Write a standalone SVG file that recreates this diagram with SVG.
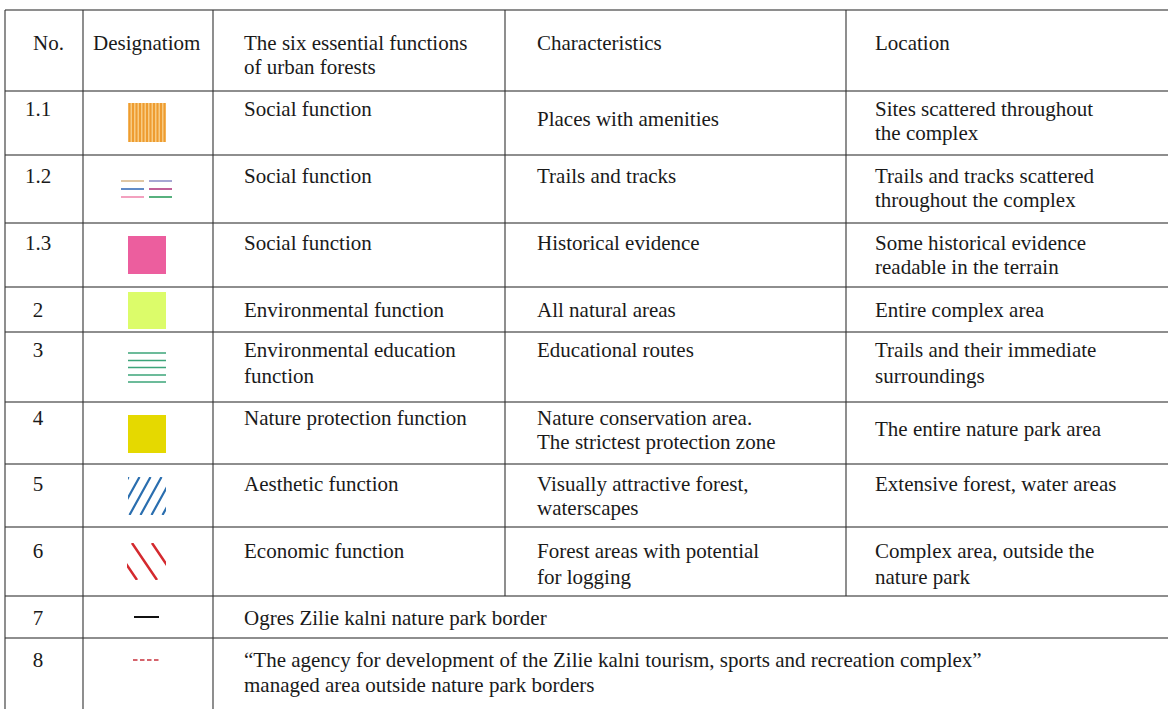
<svg xmlns="http://www.w3.org/2000/svg" width="1168" height="709" viewBox="0 0 1168 709">
<style>
text{font-family:"Liberation Serif","Times New Roman",serif;font-size:21px;fill:#1a1a1a}
.n{text-anchor:middle}
.h{stroke:#6a6a6a;stroke-width:1.6;fill:none}
.v{stroke:#333;stroke-width:1.1;fill:none}
</style>
<defs>
<clipPath id="c5"><rect x="128" y="477" width="38" height="38"/></clipPath>
<clipPath id="c6"><rect x="127" y="543" width="39" height="37"/></clipPath>
</defs>
<rect width="1168" height="709" fill="#fff"/>
<g id="grid">
<path class="h" d="M5 10H1168M5 91H1168M5 155H1168M5 223H1168M5 287H1168M5 332H1168M5 402H1168M5 464H1168M5 527H1168M5 596H1168M5 638H1168"/>
<path class="v" d="M5 10V709M83 10V709M213 10V709M505 10V596M846 10V596"/>
</g>
<g id="header">
<text x="33" y="50">No.</text>
<text x="93" y="50">Designatiom</text>
<text x="244" y="50">The six essential functions</text>
<text x="244" y="74">of urban forests</text>
<text x="537" y="50">Characteristics</text>
<text x="875" y="50">Location</text>
</g>
<g id="row-1-1">
<text class="n" x="38" y="116">1.1</text>
<rect x="128" y="103" width="38" height="39" fill="#F8CB82"/>
<path d="M129.5 103V142M133 103V142M136.5 103V142M140 103V142M143.5 103V142M147 103V142M150.5 103V142M154 103V142M157.5 103V142M161 103V142M164.5 103V142" stroke="#EE9C30" stroke-width="2"/>
<text x="244" y="116">Social function</text>
<text x="537" y="126">Places with amenities</text>
<text x="875" y="116">Sites scattered throughout</text>
<text x="875" y="140">the complex</text>
</g>
<g id="row-1-2">
<text class="n" x="38" y="183">1.2</text>
<g stroke-width="1.6">
<path d="M121 181H144" stroke="#D8B88C"/>
<path d="M149 181H172" stroke="#9090C8"/>
<path d="M121 189H144" stroke="#3A6FB8"/>
<path d="M149 189H172" stroke="#B23A80"/>
<path d="M121 197H144" stroke="#F08AB0"/>
<path d="M149 197H172" stroke="#2E9E5E"/>
</g>
<text x="244" y="183">Social function</text>
<text x="537" y="183">Trails and tracks</text>
<text x="875" y="183">Trails and tracks scattered</text>
<text x="875" y="207">throughout the complex</text>
</g>
<g id="row-1-3">
<text class="n" x="38" y="250">1.3</text>
<rect x="128" y="236" width="38" height="38" fill="#EC5E9E"/>
<text x="244" y="250">Social function</text>
<text x="537" y="250">Historical evidence</text>
<text x="875" y="250">Some historical evidence</text>
<text x="875" y="274">readable in the terrain</text>
</g>
<g id="row-2">
<text class="n" x="38" y="317">2</text>
<rect x="128" y="292" width="38" height="37" fill="#DCFC6A"/>
<text x="244" y="317">Environmental function</text>
<text x="537" y="317">All natural areas</text>
<text x="875" y="317">Entire complex area</text>
</g>
<g id="row-3">
<text class="n" x="38" y="357">3</text>
<path d="M128 353H166M128 360.5H166M128 367.5H166M128 375H166M128 382H166" stroke="#3DA57A" stroke-width="1.6"/>
<text x="244" y="357">Environmental education</text>
<text x="244" y="383">function</text>
<text x="537" y="357">Educational routes</text>
<text x="875" y="357">Trails and their immediate</text>
<text x="875" y="383">surroundings</text>
</g>
<g id="row-4">
<text class="n" x="38" y="425">4</text>
<rect x="128" y="415" width="38" height="38" fill="#E5D900"/>
<text x="244" y="425">Nature protection function</text>
<text x="537" y="425">Nature conservation area.</text>
<text x="537" y="449">The strictest protection zone</text>
<text x="875" y="436">The entire nature park area</text>
</g>
<g id="row-5">
<text class="n" x="38" y="491">5</text>
<g clip-path="url(#c5)" stroke="#2A6EAF" stroke-width="2.2">
<path d="M128.5 477l-21 38M139.5 477l-21 38M150.5 477l-21 38M161.5 477l-21 38M172.5 477l-21 38M183.5 477l-21 38"/>
</g>
<text x="244" y="491">Aesthetic function</text>
<text x="537" y="491">Visually attractive forest,</text>
<text x="537" y="515">waterscapes</text>
<text x="875" y="491">Extensive forest, water areas</text>
</g>
<g id="row-6">
<text class="n" x="38" y="558">6</text>
<g clip-path="url(#c6)" stroke="#D42A2F" stroke-width="2.5">
<path d="M112 543l25 37M132 543l25 37M152 543l25 37"/>
</g>
<text x="244" y="558">Economic function</text>
<text x="537" y="558">Forest areas with potential</text>
<text x="537" y="584">for logging</text>
<text x="875" y="558">Complex area, outside the</text>
<text x="875" y="584">nature park</text>
</g>
<g id="row-7">
<text class="n" x="38" y="625">7</text>
<path d="M134 617H159" stroke="#111" stroke-width="2"/>
<text x="244" y="625">Ogres Zilie kalni nature park border</text>
</g>
<g id="row-8">
<text class="n" x="38" y="667">8</text>
<path d="M133 660H159" stroke="#C8323C" stroke-width="1.6" stroke-dasharray="4.5 2.5"/>
<text x="244" y="667">“The agency for development of the Zilie kalni tourism, sports and recreation complex”</text>
<text x="244" y="692">managed area outside nature park borders</text>
</g>
</svg>
